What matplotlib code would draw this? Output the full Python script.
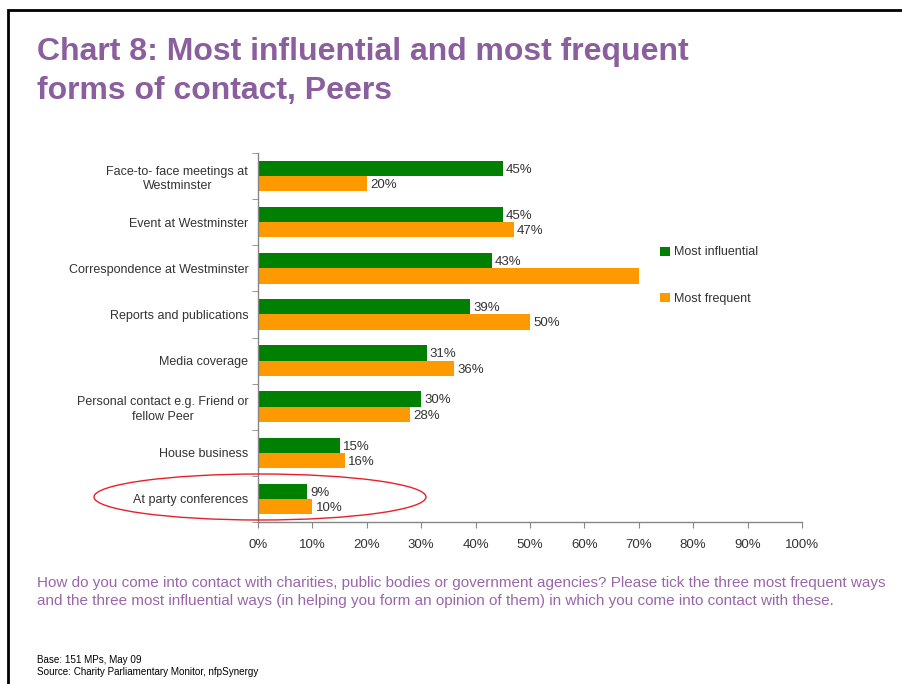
import numpy as np
import matplotlib
matplotlib.use("Agg")
import matplotlib.pyplot as plt
from matplotlib.patches import Ellipse, Rectangle

# categories top to bottom
categorias = ["Face-to- face meetings at\nWestminster",
              "Event at Westminster",
              "Correspondence at Westminster",
              "Reports and publications",
              "Media coverage",
              "Personal contact e.g. Friend or\nfellow Peer",
              "House business",
              "At party conferences"]
influyente = [45, 45, 43, 39, 31, 30, 15, 9]
frecuente = [20, 47, 70, 50, 36, 28, 16, 10]
# the 70% bar has no label in the original
etiqueta_frecuente = [True, True, False, True, True, True, True, True]

ticks_x = [0, 10, 20, 30, 40, 50, 60, 70, 80, 90, 100]

VERDE = "#008000"
NARANJA = "#FF9900"
MORADO = "#8B5E9E"
GRIS = "#868686"
TEXTO = "#333333"
ESTRECHA = ["Liberation Sans Narrow", "Liberation Sans"]

plt.rcParams["font.family"] = ["Liberation Sans", "DejaVu Sans"]

fig = plt.figure(figsize=(9.03, 6.84), dpi=100)
ax = fig.add_axes([0.2857, 0.2368, 0.6024, 0.5395])

n = len(categorias)
y = np.arange(n)
h = 0.33

ax.barh(y - h / 2, influyente, height=h, color=VERDE, label="Most influential")
ax.barh(y + h / 2, frecuente, height=h, color=NARANJA, label="Most frequent")

for i in range(n):
    ax.text(influyente[i] + 0.6, y[i] - h / 2 + 0.03, "%d%%" % influyente[i],
            va="center", ha="left", fontsize=9.5, color=TEXTO)
    if etiqueta_frecuente[i]:
        ax.text(frecuente[i] + 0.6, y[i] + h / 2 + 0.03, "%d%%" % frecuente[i],
                va="center", ha="left", fontsize=9.5, color=TEXTO)

ax.set_xlim(0, 100)
ax.set_ylim(n - 0.5, -0.5)
ax.set_xticks(ticks_x)
ax.set_xticklabels(["%d%%" % t for t in ticks_x], fontsize=9.5, color=TEXTO)

# category names sit at centres, tick marks sit between categories
ax.set_yticks(y)
ax.set_yticklabels(categorias, fontsize=9, color=TEXTO, linespacing=1.3,
                   multialignment="center")
ax.tick_params(axis="y", length=0, pad=7)
ax.set_yticks(np.arange(-0.5, n, 1), minor=True)
ax.tick_params(axis="y", which="minor", length=4, color=GRIS, direction="out")
ax.tick_params(axis="x", length=4, color=GRIS, direction="out", pad=8)

for lado in ["top", "right"]:
    ax.spines[lado].set_visible(False)
for lado in ["left", "bottom"]:
    ax.spines[lado].set_color(GRIS)
    ax.spines[lado].set_linewidth(1)

leg = fig.legend(loc="upper left", bbox_to_anchor=(0.7255, 0.647), frameon=False,
                 fontsize=9, handlelength=0.75, handleheight=0.75, handletextpad=0.38,
                 labelspacing=2.75, borderaxespad=0)
for t in leg.get_texts():
    t.set_color(TEXTO)

# red ring round the last category
fig.add_artist(Ellipse((260 / 903, 1 - 497 / 684), 332 / 903, 46 / 684,
                       transform=fig.transFigure, fill=False, edgecolor="#E8202A",
                       linewidth=1))

# page frame
fig.add_artist(Rectangle((8 / 903, -0.1), 1.2, 1 - 10 / 684 + 0.1,
                         transform=fig.transFigure, fill=False,
                         edgecolor="black", linewidth=2))

fig.text(37 / 903, 1 - 52 / 684, "Chart 8: Most influential and most frequent",
         family=ESTRECHA, fontweight="bold", fontsize=23, color=MORADO, va="center")
fig.text(37 / 903, 1 - 91 / 684, "forms of contact, Peers",
         family=ESTRECHA, fontweight="bold", fontsize=23, color=MORADO, va="center")

fig.text(37 / 903, 1 - 592 / 684,
         "How do you come into contact with charities, public bodies or government agencies? Please tick the three most frequent ways\n"
         "and the three most influential ways (in helping you form an opinion of them) in which you come into contact with these.",
         family=ESTRECHA, fontsize=11, color="#9966AA", va="center", linespacing=1.35)

fig.text(37 / 903, 1 - 666 / 684,
         "Base: 151 MPs, May 09\nSource: Charity Parliamentary Monitor, nfpSynergy",
         fontsize=7.1, color="black", va="center", linespacing=1.25)

fig.savefig("out.png", dpi=100)
